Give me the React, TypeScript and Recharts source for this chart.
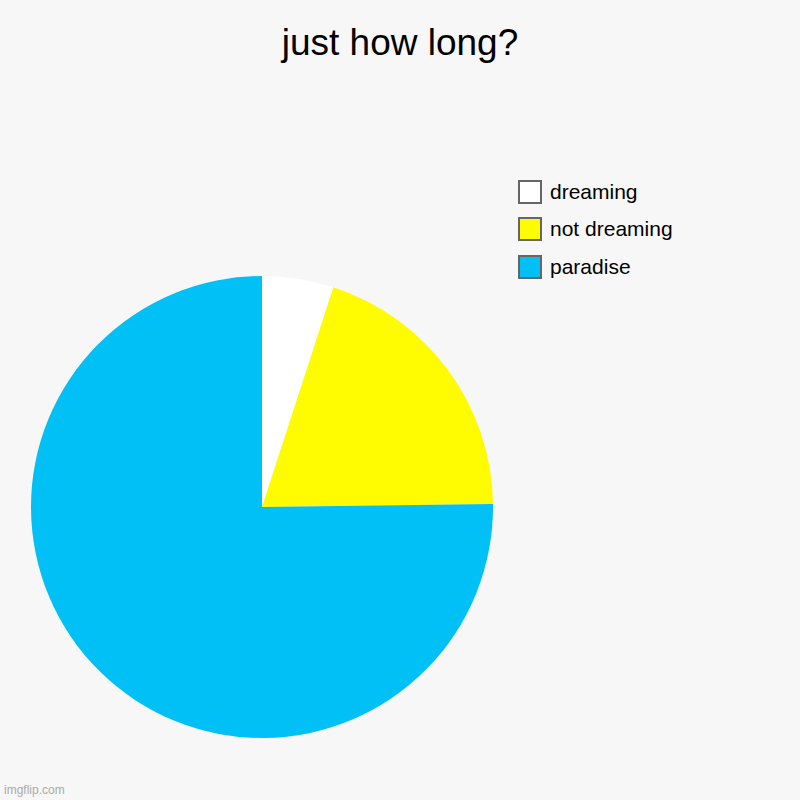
import { PieChart, Pie, Cell } from "recharts";

const labels = ["dreaming", "not dreaming", "paradise"];
const values = [5, 19.8, 75.2];
const colors = ["#ffffff", "#fffb00", "#00c0f5"];

const data = labels.map((name, i) => ({ name, value: values[i] }));

const FONT = "'Liberation Sans', Arial, sans-serif";

function LegendBox() {
  return (
    <div style={{ position: "absolute", left: 518, top: 173, fontFamily: FONT }}>
      {data.map((d, i) => (
        <div key={d.name} style={{ display: "flex", alignItems: "center", height: 37.5 }}>
          <div
            style={{
              width: 20,
              height: 20,
              background: colors[i],
              border: "2px solid #666",
              marginRight: 8,
            }}
          />
          <span style={{ fontSize: 21, color: "#000" }}>{d.name}</span>
        </div>
      ))}
    </div>
  );
}

export default function App() {
  return (
    <div
      style={{
        position: "absolute",
        top: 0,
        left: 0,
        width: 800,
        height: 800,
        background: "#f7f7f7",
        fontFamily: FONT,
      }}
    >
      <div
        style={{
          position: "absolute",
          top: 22,
          width: 800,
          textAlign: "center",
          fontSize: 37,
          color: "#000",
        }}
      >
        just how long?
      </div>
      <PieChart width={800} height={800} margin={{ top: 0, right: 0, bottom: 0, left: 0 }}>
        <Pie
          data={data}
          dataKey="value"
          nameKey="name"
          cx={262}
          cy={507}
          outerRadius={231}
          startAngle={90}
          endAngle={-270}
          stroke="none"
          isAnimationActive={false}
        >
          {data.map((d, i) => (
            <Cell key={d.name} fill={colors[i]} />
          ))}
        </Pie>
      </PieChart>
      <LegendBox />
      <div
        style={{
          position: "absolute",
          left: 4,
          top: 783,
          fontSize: 12,
          color: "#aaa",
        }}
      >
        imgflip.com
      </div>
    </div>
  );
}
